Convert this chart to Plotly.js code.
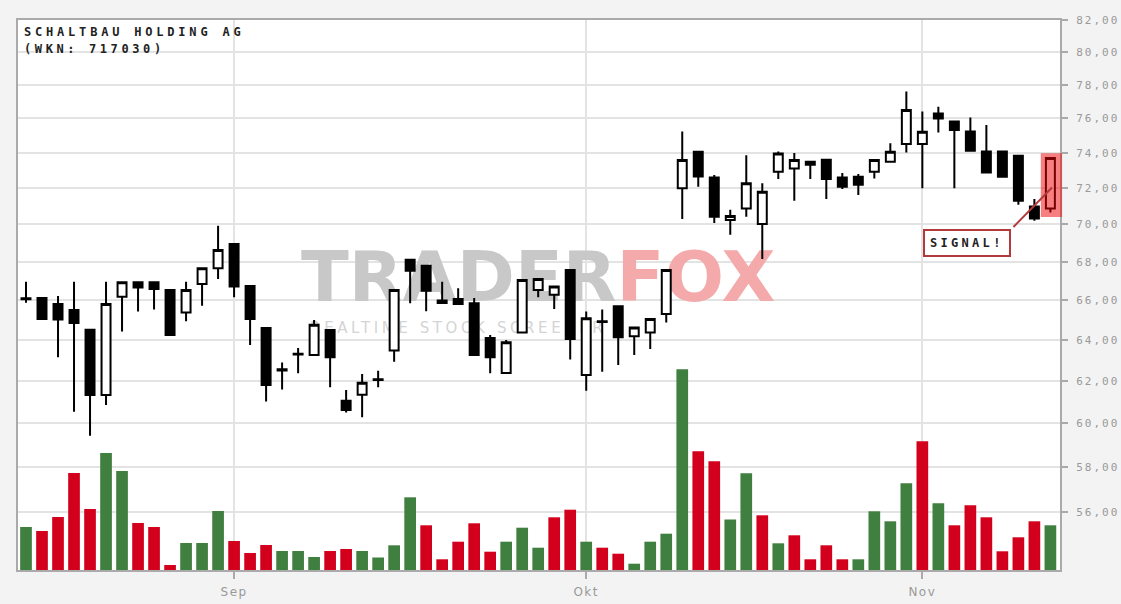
<!DOCTYPE html>
<html>
<head>
<meta charset="utf-8">
<script src="https://cdn.plot.ly/plotly-3.0.1.min.js"></script>
<style>
html,body{margin:0;padding:0;background:#f3f3f3;}
#chart{width:1121px;height:604px;}
</style>
</head>
<body>
<div id="chart"></div>
<script>
const dates = [
'2016-08-15','2016-08-16','2016-08-17','2016-08-18','2016-08-19','2016-08-22','2016-08-23','2016-08-24','2016-08-25','2016-08-26',
'2016-08-29','2016-08-30','2016-08-31','2016-09-01','2016-09-02','2016-09-05','2016-09-06','2016-09-07','2016-09-08','2016-09-09',
'2016-09-12','2016-09-13','2016-09-14','2016-09-15','2016-09-16','2016-09-19','2016-09-20','2016-09-21','2016-09-22','2016-09-23',
'2016-09-26','2016-09-27','2016-09-28','2016-09-29','2016-09-30','2016-10-03','2016-10-04','2016-10-05','2016-10-06','2016-10-07',
'2016-10-10','2016-10-11','2016-10-12','2016-10-13','2016-10-14','2016-10-17','2016-10-18','2016-10-19','2016-10-20','2016-10-21',
'2016-10-24','2016-10-25','2016-10-26','2016-10-27','2016-10-28','2016-10-31','2016-11-01','2016-11-02','2016-11-03','2016-11-04',
'2016-11-07','2016-11-08','2016-11-09','2016-11-10','2016-11-11'];

const openP = [66.05,66.11,65.81,65.50,64.51,61.32,66.18,66.92,66.92,66.52,
65.38,66.83,67.65,68.94,66.73,64.59,62.50,63.28,63.26,64.49,
61.05,61.34,62.04,63.47,68.11,67.79,65.98,66.06,65.84,64.10,
62.38,64.37,66.52,66.28,67.56,62.28,64.93,65.69,64.18,64.37,
65.30,71.98,74.05,72.59,70.23,70.87,70.02,72.91,73.10,73.48,
73.59,72.59,72.63,72.91,73.48,74.50,74.50,76.28,75.81,75.23,
74.07,74.07,73.82,70.98,70.87];
const highP = [66.95,66.11,66.22,66.95,64.51,66.95,66.92,66.92,66.92,66.52,
66.95,67.65,69.92,68.94,66.73,64.59,62.89,63.60,65.00,64.49,
61.56,62.33,62.49,66.52,68.11,67.79,66.95,66.61,66.11,64.24,
64.00,67.04,67.10,66.70,67.56,65.42,65.52,65.69,64.62,65.05,
67.56,75.23,74.05,72.73,70.80,73.86,72.26,74.07,73.98,73.48,
73.59,72.84,72.78,73.58,74.55,77.60,76.40,76.68,75.81,76.05,
75.60,74.07,73.82,71.39,73.69];
const lowP = [65.87,65.05,63.14,60.53,59.42,60.85,64.42,65.43,65.52,64.24,
64.93,65.72,67.09,66.15,63.75,61.01,61.58,62.36,63.26,61.69,
60.50,60.27,61.69,62.93,65.84,65.44,65.86,65.80,63.26,62.36,
62.38,64.37,66.15,65.55,63.03,61.53,62.44,62.77,63.26,63.55,
64.87,70.29,72.07,70.07,69.44,70.41,68.14,72.50,71.29,72.50,
71.39,71.94,71.61,72.54,73.48,74.01,71.98,75.17,71.98,74.11,
72.87,72.63,71.07,70.20,70.65];
const closeP = [66.10,65.05,65.02,64.84,61.32,65.81,66.92,66.66,66.58,64.24,
66.52,67.65,68.62,66.70,65.04,61.80,62.56,63.32,64.76,63.14,
60.61,61.91,62.08,66.52,67.53,66.49,65.86,65.80,63.26,63.14,
63.88,67.04,67.10,66.70,64.05,65.08,64.90,64.13,64.62,65.05,
67.56,73.58,72.65,70.41,70.46,72.26,71.79,73.96,73.58,73.31,
72.50,72.07,72.18,73.58,74.05,76.49,75.21,75.99,75.31,74.11,
72.87,72.63,71.29,70.32,73.69];
const volume = [4300,3900,5300,9700,6100,11700,9900,4700,4300,500,
2700,2700,5900,2900,1700,2500,1900,1900,1300,1900,
2100,1900,1250,2470,7270,4470,1070,2830,4670,1830,
2830,4230,2230,5270,6030,2830,2230,1630,630,2830,
3630,20070,11870,10870,5050,9670,5470,2670,3470,1070,
2470,1070,1070,5870,4870,8670,12870,6670,4470,6470,
5270,1870,3270,4870,4470];

const priceTicks = [56,58,60,62,64,66,68,70,72,74,76,78,80,82];
const monthTicks = ['2016-09-01','2016-10-03','2016-11-01'];
const monthLabels = ['Sep','Okt','Nov'];
const titleLines = ['SCHALTBAU HOLDING AG','(WKN: 717030)'];
const signalText = 'SIGNAL!';

const GREEN = '#3f7f3f', RED = '#d2001c';
const volColors = closeP.map((c,i) => ((i === 0 ? c >= openP[0] : c >= closeP[i-1]) ? GREEN : RED));
const sp = (t, ls) => '<span style="letter-spacing:' + ls + 'px">' + t + '</span>';
const yRange = [Math.log10(53.54), Math.log10(82.02)];
const last = dates.length - 1;
const xRange = [-0.5, 64.6];
const toPaperX = v => (v - xRange[0]) / (xRange[1] - xRange[0]);
const toPaperY = p => (Math.log10(p) - yRange[0]) / (yRange[1] - yRange[0]);

const traces = [
  {
    type: 'candlestick', x: dates, open: openP, high: highP, low: lowP, close: closeP,
    xaxis: 'x', yaxis: 'y3', whiskerwidth: 0,
    increasing: {line: {color: '#000', width: 2}, fillcolor: '#ffffff'},
    decreasing: {line: {color: '#000', width: 2}, fillcolor: '#000000'},
    hoverinfo: 'skip'
  },
  {
    type: 'bar', x: dates, y: volume, xaxis: 'x', yaxis: 'y2',
    marker: {color: volColors, line: {width: 0}}, hoverinfo: 'skip'
  },
  {
    type: 'scatter', mode: 'text', x: [dates[32]], y: [66.85], xaxis: 'x', yaxis: 'y',
    text: ['<span style="color:#c8c8c8">TRADER</span><span style="color:#f4aaaa">FOX</span>'],
    textfont: {family: 'DejaVu Sans', size: 70, weight: 'bold', color: '#c8c8c8'},
    textposition: 'middle center', hoverinfo: 'skip'
  },
  {
    type: 'scatter', mode: 'text', x: [dates[27]], y: [64.55], xaxis: 'x', yaxis: 'y',
    text: [sp('REALTIME STOCK SCREENER', 3.6)],
    textfont: {family: 'DejaVu Sans', size: 15, color: '#d4d4d4'},
    textposition: 'middle center', hoverinfo: 'skip'
  }
];

const layout = {
  width: 1121, height: 604,
  margin: {l: 18, r: 61, t: 20, b: 34, pad: 0},
  paper_bgcolor: '#f3f3f3', plot_bgcolor: '#ffffff',
  showlegend: false, bargap: 0.27, boxgap: 0.2,
  xaxis: {
    type: 'category', categoryorder: 'array', categoryarray: dates,
    range: xRange, rangeslider: {visible: false},
    tickvals: monthTicks, ticktext: monthLabels.map(t => sp(t, 1.5)),
    ticks: 'outside', ticklen: 7, tickwidth: 2, tickcolor: '#aaaaaa', ticklabelstandoff: 3,
    tickfont: {family: 'DejaVu Sans', size: 12, color: '#999999'},
    showgrid: true, gridcolor: '#e3e3e3', gridwidth: 2,
    showline: true, mirror: true, linecolor: '#aaaaaa', linewidth: 2,
    zeroline: false, fixedrange: true
  },
  yaxis: {
    type: 'log', side: 'right', range: yRange,
    tickvals: priceTicks, ticktext: priceTicks.map(v => sp(v.toFixed(2).replace('.', ','), 2)),
    ticks: 'outside', ticklen: 6, tickwidth: 2, tickcolor: '#aaaaaa', ticklabelstandoff: 6,
    tickfont: {family: 'DejaVu Sans Mono', size: 11, color: '#999999'},
    showgrid: true, gridcolor: '#e3e3e3', gridwidth: 2,
    showline: true, mirror: true, linecolor: '#aaaaaa', linewidth: 2,
    zeroline: false, fixedrange: true
  },
  yaxis2: {overlaying: 'y', range: [0, 55000], visible: false, fixedrange: true},
  yaxis3: {overlaying: 'y', type: 'log', range: yRange, visible: false, fixedrange: true},
  shapes: [
    {type: 'rect', layer: 'above', xref: 'paper', yref: 'paper',
     x0: toPaperX(last - 0.6), x1: toPaperX(last + 0.73),
     y0: toPaperY(lowP[last] * 0.9965), y1: toPaperY(highP[last] * 1.0037),
     fillcolor: 'rgba(238,0,0,0.5)', line: {width: 0}}
  ],
  annotations: [
    {xref: 'paper', yref: 'paper', x: 0, y: 1, xanchor: 'left', yanchor: 'top', xshift: 4, yshift: -3,
     text: sp(titleLines[0], 3.8), showarrow: false,
     font: {family: 'DejaVu Sans Mono', size: 12, color: '#222222', weight: 'bold'}},
    {xref: 'paper', yref: 'paper', x: 0, y: 1, xanchor: 'left', yanchor: 'top', xshift: 4, yshift: -20,
     text: sp(titleLines[1], 3.6), showarrow: false,
     font: {family: 'DejaVu Sans Mono', size: 12, color: '#222222', weight: 'bold'}},
    {xref: 'x', yref: 'y3', x: last + 0.1, y: Math.log10(72.03), text: '',
     showarrow: true, arrowhead: 0, arrowwidth: 2, arrowcolor: '#b23a3a', ax: -40, ay: 41},
    {xref: 'paper', yref: 'paper', x: 0.9107, y: 0.594, xanchor: 'center', yanchor: 'middle',
     text: sp(signalText, 3.3), showarrow: false,
     font: {family: 'DejaVu Sans Mono', size: 12, color: '#222222', weight: 'bold'},
     bgcolor: '#ffffff', bordercolor: '#b23a3a', borderwidth: 2, borderpad: 5}
  ]
};

Plotly.newPlot('chart', traces, layout, {displayModeBar: false, staticPlot: true});
</script>
</body>
</html>
